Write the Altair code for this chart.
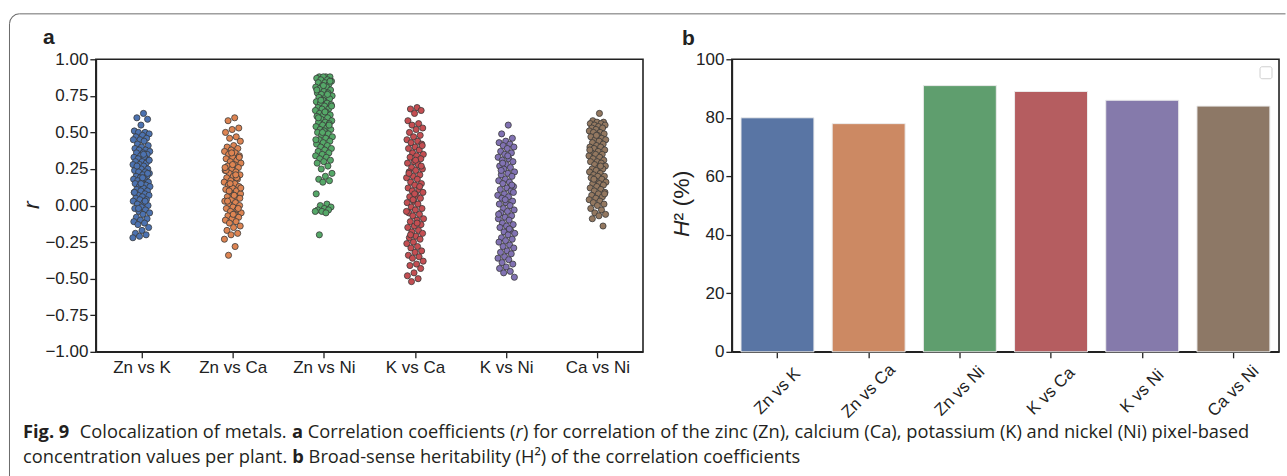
import json
import math
import altair as alt
import pandas as pd

# ---------------- data ----------------
pairs = ["Zn vs K", "Zn vs Ca", "Zn vs Ni", "K vs Ca", "K vs Ni", "Ca vs Ni"]

r_zn_k = [0.63, 0.60, 0.59, 0.55, 0.51, 0.50, 0.50, 0.49, 0.48, 0.47, 0.46, 0.45, 0.45, 0.44, 0.42,
          0.41, 0.40, 0.39, 0.38, 0.38, 0.37, 0.36, 0.36, 0.35, 0.34, 0.33, 0.33, 0.32, 0.31, 0.30,
          0.30, 0.29, 0.28, 0.28, 0.27, 0.26, 0.25, 0.25, 0.24, 0.23, 0.23, 0.22, 0.21, 0.20, 0.20,
          0.19, 0.18, 0.18, 0.17, 0.16, 0.16, 0.15, 0.14, 0.13, 0.13, 0.12, 0.11, 0.10, 0.10, 0.09,
          0.08, 0.07, 0.07, 0.06, 0.05, 0.04, 0.04, 0.03, 0.02, 0.01, 0.00, -0.01, -0.02, -0.03,
          -0.04, -0.05, -0.06, -0.08, -0.09, -0.10, -0.11, -0.12, -0.13, -0.15, -0.17, -0.19,
          -0.20, -0.21, -0.22, 0.35, 0.27, 0.22, 0.15, 0.09, 0.03, -0.02, 0.31, 0.19]
r_zn_ca = [0.60, 0.58, 0.53, 0.52, 0.50, 0.47, 0.46, 0.44, 0.41, 0.40, 0.39, 0.38, 0.37, 0.36, 0.35,
           0.34, 0.33, 0.32, 0.31, 0.30, 0.29, 0.28, 0.27, 0.26, 0.25, 0.24, 0.23, 0.22, 0.21, 0.20,
           0.19, 0.18, 0.17, 0.16, 0.15, 0.14, 0.13, 0.12, 0.11, 0.10, 0.09, 0.08, 0.07, 0.06, 0.05,
           0.04, 0.03, 0.02, 0.01, 0.00, -0.01, -0.02, -0.03, -0.04, -0.05, -0.06, -0.07, -0.08,
           -0.09, -0.10, -0.11, -0.12, -0.14, -0.15, -0.17, -0.19, -0.20, -0.23, -0.28, -0.34,
           0.33, 0.28, 0.24, 0.19, 0.15, 0.12, 0.07, 0.03, -0.02, 0.36, 0.26, 0.21, 0.10, 0.05, -0.06]
r_zn_ni = [0.88, 0.88, 0.88, 0.88, 0.87, 0.86, 0.86, 0.85, 0.84, 0.84, 0.83, 0.82, 0.81, 0.81, 0.80,
           0.79, 0.78, 0.77, 0.77, 0.76, 0.75, 0.74, 0.74, 0.73, 0.72, 0.71, 0.70, 0.70, 0.69, 0.68,
           0.67, 0.66, 0.66, 0.65, 0.64, 0.63, 0.62, 0.62, 0.61, 0.60, 0.59, 0.58, 0.57, 0.57, 0.56,
           0.55, 0.54, 0.53, 0.52, 0.52, 0.51, 0.50, 0.49, 0.48, 0.47, 0.46, 0.45, 0.44, 0.43, 0.42,
           0.41, 0.40, 0.39, 0.38, 0.37, 0.36, 0.35, 0.34, 0.33, 0.32, 0.31, 0.30, 0.29, 0.27, 0.25,
           0.22, 0.20, 0.18, 0.17, 0.16, 0.08, 0.01, 0.00, -0.01, -0.02, -0.03, -0.03, -0.04, -0.04,
           -0.05, -0.20, 0.85, 0.82, 0.79, 0.76, 0.72, 0.68, 0.64, 0.60, 0.55, 0.50, 0.45]
r_k_ca = [0.67, 0.66, 0.65, 0.63, 0.58, 0.56, 0.55, 0.53, 0.52, 0.50, 0.48, 0.47, 0.45, 0.44, 0.43,
          0.42, 0.40, 0.39, 0.38, 0.36, 0.35, 0.34, 0.33, 0.32, 0.30, 0.29, 0.28, 0.26, 0.25, 0.24,
          0.23, 0.21, 0.20, 0.19, 0.18, 0.16, 0.15, 0.14, 0.12, 0.11, 0.10, 0.09, 0.07, 0.06, 0.05,
          0.03, 0.02, 0.01, -0.01, -0.02, -0.03, -0.05, -0.06, -0.07, -0.09, -0.10, -0.11, -0.13,
          -0.14, -0.15, -0.17, -0.18, -0.19, -0.21, -0.22, -0.23, -0.25, -0.26, -0.28, -0.29, -0.31,
          -0.32, -0.34, -0.35, -0.36, -0.38, -0.40, -0.41, -0.43, -0.46, -0.48, -0.50, -0.52,
          0.41, 0.31, 0.22, 0.13, 0.04, -0.04, -0.12, -0.20, 0.27, 0.08]
r_k_ni = [0.55, 0.49, 0.46, 0.44, 0.43, 0.42, 0.41, 0.40, 0.39, 0.37, 0.36, 0.35, 0.33, 0.32, 0.31,
          0.30, 0.28, 0.27, 0.26, 0.25, 0.23, 0.22, 0.21, 0.20, 0.18, 0.17, 0.16, 0.15, 0.13, 0.12,
          0.11, 0.10, 0.08, 0.07, 0.06, 0.05, 0.03, 0.02, 0.01, 0.00, -0.02, -0.03, -0.04, -0.05,
          -0.07, -0.08, -0.09, -0.10, -0.12, -0.13, -0.14, -0.15, -0.17, -0.18, -0.19, -0.20, -0.22,
          -0.23, -0.24, -0.25, -0.27, -0.28, -0.29, -0.31, -0.32, -0.33, -0.35, -0.36, -0.37, -0.39,
          -0.40, -0.42, -0.43, -0.45, -0.46, -0.49, 0.34, 0.24, 0.14, 0.04, -0.06, -0.16, 0.29, 0.09]
r_ca_ni = [0.63, 0.58, 0.57, 0.57, 0.56, 0.56, 0.55, 0.55, 0.54, 0.53, 0.53, 0.52, 0.51, 0.50, 0.50,
           0.49, 0.48, 0.47, 0.46, 0.45, 0.45, 0.44, 0.43, 0.42, 0.41, 0.40, 0.40, 0.39, 0.38, 0.37,
           0.36, 0.35, 0.35, 0.34, 0.33, 0.32, 0.31, 0.30, 0.30, 0.29, 0.28, 0.27, 0.26, 0.25, 0.25,
           0.24, 0.23, 0.22, 0.21, 0.20, 0.20, 0.19, 0.18, 0.17, 0.16, 0.15, 0.15, 0.14, 0.13, 0.12,
           0.11, 0.10, 0.09, 0.08, 0.07, 0.06, 0.05, 0.04, 0.03, 0.02, 0.01, 0.00, -0.02, -0.03,
           -0.05, -0.06, -0.07, -0.09, -0.14, 0.48, 0.38, 0.27, 0.18, 0.08]

h2_values = [80, 78, 91, 89, 86, 84]

strip_colors = ["#4c72b0", "#dd8452", "#55a868", "#c44e52", "#8172b3", "#937860"]
bar_colors = ["#5975a4", "#cc8963", "#5f9e6e", "#b55d60", "#857aab", "#8d7866"]

y_ticks_a = [-1.0, -0.75, -0.5, -0.25, 0.0, 0.25, 0.5, 0.75, 1.0]
y_ticks_b = [0, 20, 40, 60, 80, 100]

caption_line1 = [("Fig. 9", "bold", "normal"),
                 ("  Colocalization of metals. ", "normal", "normal"),
                 ("a", "bold", "normal"),
                 (" Correlation coefficients (", "normal", "normal"),
                 ("r", "normal", "italic"),
                 (") for correlation of the zinc (Zn), calcium (Ca), potassium (K) and nickel (Ni) pixel-based",
                  "normal", "normal")]
caption_line2 = [("concentration values per plant. ", "normal", "normal"),
                 ("b", "bold", "normal"),
                 (" Broad-sense heritability (H²) of the correlation coefficients", "normal", "normal")]

# ---------------- tables ----------------
r_lists = [r_zn_k, r_zn_ca, r_zn_ni, r_k_ca, r_k_ni, r_ca_ni]
rows = []
for i, (p, vals) in enumerate(zip(pairs, r_lists)):
    for v in vals:
        rows.append({"pair": p, "idx": i, "r": v})
strip_df = pd.DataFrame(rows)
bar_df = pd.DataFrame({"pair": pairs, "h2": h2_values})
one = pd.DataFrame({"d": [0]})

W, H = 548, 293
INK = "#222222"
AXFONT = "Liberation Sans"
CAPFONT = "Open Sans"
TICK_FS = 17
LAB_FS = 23

label_expr = json.dumps(pairs) + "[datum.value]"


def txt(text, x, y, size, weight="normal", style="normal", font=AXFONT, angle=0,
        align="left", baseline="alphabetic", color=INK):
    return alt.Chart(one).mark_text(
        text=text, fontSize=size, fontWeight=weight, fontStyle=style, font=font,
        angle=angle, align=align, baseline=baseline, color=color
    ).encode(x=alt.value(x), y=alt.value(y))


# ---------------- panel a ----------------
points = alt.Chart(strip_df).transform_window(
    rn="row_number()", groupby=["pair"]
).transform_calculate(
    xpos="datum.idx + ((datum.rn * 0.6180339887) % 1 - 0.5) * 0.19"
).mark_circle(size=38, stroke="#3a3a3a", strokeWidth=0.8, opacity=1).encode(
    x=alt.X("xpos:Q", scale=alt.Scale(domain=[-0.5, 5.5], nice=False, zero=False),
            axis=alt.Axis(values=[0, 1, 2, 3, 4, 5], labelExpr=label_expr, title=None,
                          grid=False, labelPadding=2, labelFlush=False)),
    y=alt.Y("r:Q", scale=alt.Scale(domain=[-1, 1], nice=False),
            axis=alt.Axis(values=y_ticks_a, format=".2f", title=None, grid=False,
                          labelPadding=2, labelFlush=False)),
    color=alt.Color("pair:N", scale=alt.Scale(domain=pairs, range=strip_colors), legend=None),
)

# outer rounded box (top and left edges) drawn in panel-a coordinates
BX, BY, RAD = -86.5, -45.5, 10
box_color = "#6b6b6b"
top_line = alt.Chart(one).mark_rule(color=box_color, strokeWidth=1).encode(
    x=alt.value(BX + RAD), x2=alt.value(1191.5), y=alt.value(BY))
left_line = alt.Chart(one).mark_rule(color=box_color, strokeWidth=1).encode(
    x=alt.value(BX), y=alt.value(BY + RAD), y2=alt.value(417.5))
corner = alt.Chart(one).mark_arc(radius=RAD + 0.5, radius2=RAD - 0.5, theta=3 * math.pi / 2,
                                 theta2=2 * math.pi, color=box_color).encode(
    x=alt.value(BX + RAD), y=alt.value(BY + RAD))

# caption
reg = {' ': .26, 'a': .556, 'b': .613, 'c': .476, 'd': .613, 'e': .561, 'f': .339, 'g': .548,
       'h': .614, 'i': .253, 'j': .253, 'k': .525, 'l': .253, 'm': .930, 'n': .614, 'o': .604,
       'p': .613, 'q': .613, 'r': .408, 's': .477, 't': .353, 'u': .614, 'v': .501, 'w': .778,
       'x': .524, 'y': .502, 'z': .477, 'C': .631, 'H': .739, 'K': .590, 'N': .742, 'Z': .560,
       'B': .629, 'F': .527, '(': .297, ')': .297, '.': .266, ',': .240, '-': .322, '²': .37,
       '9': .572}
bold = {' ': .26, 'F': .575, 'i': .30, 'g': .585, '.': .30, '9': .572, 'a': .60, 'b': .64}


def em(s, weight):
    tab = bold if weight == "bold" else reg
    return sum(tab.get(c, reg.get(c, .55)) for c in s)


line1_em = sum(em(t, w) for t, w, s in caption_line1)
CAP_SIZE = 1228 / line1_em
CAP_X = -73
caption_layers = []
for segs, yb in ((caption_line1, 379), (caption_line2, 404)):
    cur = CAP_X
    for t, w, s in segs:
        lead = len(t) - len(t.lstrip(" "))
        xpos = cur + em(" " * lead, "normal") * CAP_SIZE
        caption_layers.append(txt(t.strip(" "), xpos, yb, CAP_SIZE, weight=w, style=s,
                                  font=CAPFONT, color="#231f20"))
        cur += em(t, w) * CAP_SIZE

panel_a = alt.layer(
    points,
    txt("a", -53, -15, 21, weight="bold"),
    txt("r", -57, 146, LAB_FS, style="italic", angle=270, align="center"),
    top_line, left_line, corner,
    *caption_layers,
).properties(width=W, height=H)

# ---------------- panel b ----------------
bars = alt.Chart(bar_df).mark_bar(stroke="#ececec", strokeWidth=1).encode(
    x=alt.X("pair:N", sort=pairs,
            scale=alt.Scale(paddingInner=0.2, paddingOuter=0.1),
            axis=alt.Axis(title=None, labelAngle=-45, labelAlign="center",
                          labelBaseline="middle", labelPadding=33)),
    y=alt.Y("h2:Q", scale=alt.Scale(domain=[0, 100], nice=False),
            axis=alt.Axis(values=y_ticks_b, title=None, grid=False, labelPadding=2,
                          labelFlush=False)),
    color=alt.Color("pair:N", scale=alt.Scale(domain=pairs, range=bar_colors), legend=None),
)

legend_box = alt.Chart(one).mark_rect(fill="white", stroke="#cfcfcf", strokeWidth=1,
                                      cornerRadius=2).encode(
    x=alt.value(529), x2=alt.value(541), y=alt.value(7.5), y2=alt.value(19.5))

h_w = 0.722 * LAB_FS
panel_b = alt.layer(
    bars,
    legend_box,
    txt("b", -50, -14, 21, weight="bold"),
    txt("H", -43, 178, LAB_FS, style="italic", angle=270, align="left"),
    txt("² (%)", -43, 178 - h_w, LAB_FS, angle=270, align="left"),
).properties(width=W, height=H)

chart = alt.hconcat(panel_a, panel_b, spacing=89, bounds="flush").resolve_scale(
    color="independent", x="independent", y="independent"
).properties(
    padding={"left": 8, "top": 12, "right": 0, "bottom": 0}
).configure_view(
    stroke=INK, strokeWidth=1.6
).configure_axis(
    domainColor=INK, domainWidth=1.6, tickColor=INK, tickWidth=1.3, tickSize=6,
    labelFont=AXFONT, labelFontSize=TICK_FS, labelColor=INK
)

chart.save("out.html", embed_options={"renderer": "svg", "actions": False})
